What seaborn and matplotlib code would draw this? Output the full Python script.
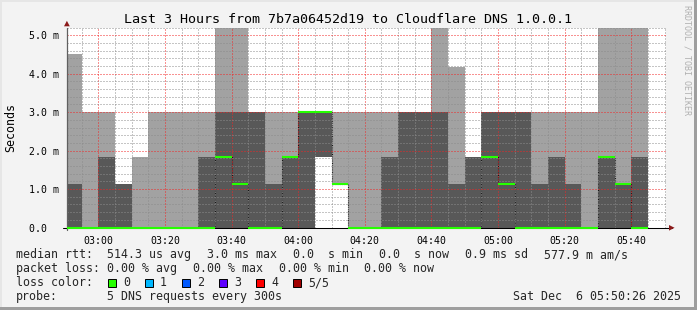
import numpy as np
import pandas as pd
import matplotlib
matplotlib.use("Agg")
import matplotlib.pyplot as plt
import matplotlib.dates as mdates
from matplotlib.ticker import MultipleLocator, FixedLocator, FixedFormatter
from matplotlib.patches import Rectangle, Polygon
import seaborn as sns

# ---------------- data ----------------
title = "Last 3 Hours from 7b7a06452d19 to Cloudflare DNS 1.0.0.1"
window_start = "2025-12-06 02:50:26"
window_end = "2025-12-06 05:50:26"
first_full_bin = "2025-12-06 02:55"
last_bin_end = "2025-12-06 05:45"
step = "5min"

# smoke (ms) per 5-minute bin: lowest ping, 2nd/4th ping band, highest ping, median
smoke_lower = [0, 0, 0, 0, 0, 0, 0, 0, 0, 0, 0, 0, 0, 0, 0, 1.83, 1.12, 0,
               0, 0, 0, 0, 0, 0, 0, 0, 0, 0, 0, 0, 0, 0, 0, 0, 0]
smoke_inner = [1.12, 0, 1.83, 1.12, 0, 0, 0, 0, 1.83, 3.0, 3.0, 3.0, 1.12, 1.83,
               3.0, 3.0, 1.12, 0, 0, 1.83, 3.0, 3.0, 3.0, 1.12, 1.83, 3.0, 3.0,
               3.0, 1.12, 1.83, 1.12, 0, 1.83, 1.12, 1.83]
smoke_max = [4.52, 3.0, 3.0, 1.12, 1.83, 3.0, 3.0, 3.0, 3.0, 5.2, 5.2, 3.0, 3.0,
             3.0, 3.0, 3.0, 3.0, 3.0, 3.0, 3.0, 3.0, 3.0, 5.2, 4.18, 1.83, 3.0,
             3.0, 3.0, 3.0, 3.0, 3.0, 3.0, 5.2, 5.2, 5.2]
median = [0, 0, 0, 0, 0, 0, 0, 0, 0, 1.83, 1.12, 0, 0, 1.83, 3.0, 3.0, 1.12, 0,
          0, 0, 0, 0, 0, 0, 0, 1.83, 1.12, 0, 0, 0, 0, 0, 1.83, 1.12, 0]

y_ticks = [0, 1, 2, 3, 4, 5]
y_tick_labels = ["0.0  ", "1.0 m", "2.0 m", "3.0 m", "4.0 m", "5.0 m"]
y_label = "Seconds"
side_label = "RRDTOOL / TOBI OETIKER"

stats_rtt = ["514.3 us avg", "3.0 ms max", "0.0  s min", "0.0  s now",
             "0.9 ms sd", "577.9 m am/s"]
stats_loss = ["0.00 % avg", "0.00 % max", "0.00 % min", "0.00 % now"]
loss_labels = ["0", "1", "2", "3", "4", "5/5"]
loss_colors = ["#26ff00", "#00b8ff", "#0059ff", "#5e00ff", "#ff0000", "#a00000"]
probe_text = "5 DNS requests every 300s"
stamp_text = "Sat Dec  6 05:50:26 2025"

# ---------------- style ----------------
sns.set_theme(style="white")
plt.rcParams["font.family"] = ["DejaVu Sans Mono", "DejaVu Sans"]

BG = "#f3f3f3"
LIGHT = "#a2a2a2"
DARK = "#585858"
GREEN = loss_colors[0]
W, H = 697, 310

fig = plt.figure(figsize=(W / 100, H / 100), dpi=100, facecolor=BG)
ax = fig.add_axes([66.5 / W, 82.5 / H, 599.5 / W, 200 / H])
ax.set_facecolor("white")

edges = pd.DatetimeIndex([pd.Timestamp(window_start)]).append(
    pd.date_range(first_full_bin, last_bin_end, freq=step))
xe = mdates.date2num(edges.to_pydatetime())
ext = lambda v: np.append(np.asarray(v, float), v[-1])

ax.fill_between(xe, ext(smoke_lower), ext(smoke_max), step="post",
                color=LIGHT, lw=0, zorder=1)
ax.fill_between(xe, ext(smoke_lower), ext(smoke_inner), step="post",
                color=DARK, lw=0, zorder=1.1)

med_df = pd.DataFrame({"t": xe, "median": ext(median)})
sns.lineplot(data=med_df, x="t", y="median", drawstyle="steps-post",
             color="#151515", lw=0.8, linestyle=(0, (1, 1)), ax=ax, zorder=2,
             legend=False)

ax.hlines(median, xe[:-1], xe[1:], color=GREEN, lw=1.5, zorder=6,
          clip_on=False)

ax.set_xlim(mdates.date2num(pd.Timestamp(window_start)),
            mdates.date2num(pd.Timestamp(window_end)))
ax.set_ylim(0, 5.2)

ax.xaxis.set_major_locator(mdates.MinuteLocator(byminute=[0, 20, 40]))
ax.xaxis.set_minor_locator(mdates.MinuteLocator(byminute=range(0, 60, 5)))
ax.xaxis.set_major_formatter(mdates.DateFormatter("%H:%M"))
ax.yaxis.set_major_locator(FixedLocator(y_ticks))
ax.yaxis.set_major_formatter(FixedFormatter(y_tick_labels))
ax.yaxis.set_minor_locator(MultipleLocator(0.2))

ax.set_axisbelow(False)
ax.grid(which="major", color=(0.95, 0.15, 0.15, 0.26), lw=0.72,
        linestyle=(0, (1, 2)))
ax.grid(which="minor", color=(0.55, 0.55, 0.55, 0.36), lw=0.72,
        linestyle=(0, (1, 2)))

for s in ax.spines.values():
    s.set_visible(False)
ax.tick_params(axis="both", which="major", length=2.2, width=0.72,
               color=(0.9, 0.3, 0.3, 0.6), labelsize=7.1, labelcolor="black")
ax.tick_params(axis="both", which="minor", length=1.4, width=0.72,
               color=(0.5, 0.5, 0.5, 0.5))
ax.tick_params(axis="x", which="major", pad=4.0)
ax.tick_params(axis="y", which="major", pad=2.9)
ax.set_xlabel("")
ax.set_ylabel("")

# axis lines
ax.plot([-0.006, 1.0107], [0, 0], transform=ax.get_yaxis_transform(),
        color="black", lw=0.75, clip_on=False, zorder=5)
ax.plot([0.0005, 0.0005], [-0.01, 1.0], transform=ax.transAxes,
        color="#606060", lw=0.9, clip_on=False, zorder=5)

# ---------------- overlay (text, arrows, frame) ----------------
ov = fig.add_axes([0, 0, 1, 1], zorder=10)
ov.set_xlim(0, W)
ov.set_ylim(H, 0)
ov.axis("off")

ARROW = "#8b1a1a"
ov.add_patch(Polygon([[64.0, 26.3], [69.8, 26.3], [66.9, 20.8]], closed=True,
                     color=ARROW, lw=0))
ov.add_patch(Polygon([[669.0, 225.0], [669.0, 230.6], [674.6, 227.8]],
                     closed=True, color=ARROW, lw=0))

# frame
ov.add_patch(Rectangle((0, 0), W, 2, color="#e6e6e6", lw=0))
ov.add_patch(Rectangle((0, 0), 2, H, color="#e6e6e6", lw=0))
ov.add_patch(Rectangle((W - 3, 0), 3, H, color="#9e9e9e", lw=0))
ov.add_patch(Rectangle((0, H - 3), W, 3, color="#9e9e9e", lw=0))

ov.text(348, 23.3, title, ha="center", va="baseline", fontsize=9.6,
        color="black")
ov.text(10.5, 127, y_label, rotation=90, ha="center", va="center",
        fontsize=8.4, color="black")
ov.text(687.5, 60, side_label, rotation=270, ha="center", va="center",
        fontsize=6.0, color="#b0b0b0")

FS = 8.4
rows = [258.3, 272.3, 286.3, 300.3]
ov.text(16, rows[0], "median rtt:", fontsize=FS, va="baseline")
for x, s in zip([107, 207, 293, 379, 465, 544], stats_rtt):
    ov.text(x, rows[0], s, fontsize=FS, va="baseline")
ov.text(16, rows[1], "packet loss:", fontsize=FS, va="baseline")
for x, s in zip([107, 193, 279, 364.5], stats_loss):
    ov.text(x, rows[1], s, fontsize=FS, va="baseline")
ov.text(16, rows[2], "loss color:", fontsize=FS, va="baseline")
for i, (lab, col) in enumerate(zip(loss_labels, loss_colors)):
    bx = 108 + 37 * i
    ov.add_patch(Rectangle((bx, 278.6), 8.4, 8.4, facecolor=col,
                           edgecolor="black", lw=0.7))
    ov.text(bx + 15, rows[2], lab, fontsize=FS, va="baseline")
ov.text(16, rows[3], "probe:", fontsize=FS, va="baseline")
ov.text(107, rows[3], probe_text, fontsize=FS, va="baseline")
ov.text(681, rows[3], stamp_text, fontsize=FS, va="baseline", ha="right")

fig.savefig("out.png", dpi=100, facecolor=BG)
